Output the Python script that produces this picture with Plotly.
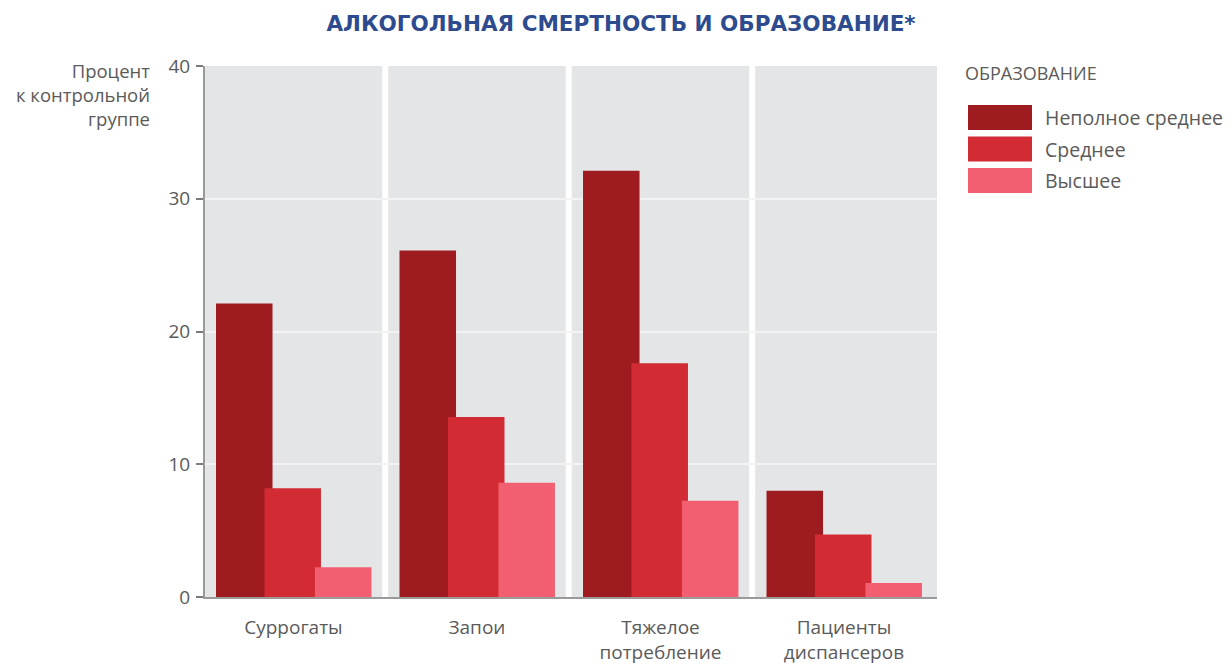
import plotly.graph_objects as go

categories = ["Суррогаты", "Запои", "Тяжелое<br>потребление", "Пациенты<br>диспансеров"]
series_names = ["Неполное среднее", "Среднее", "Высшее"]
incomplete_secondary = [22.1, 26.1, 32.1, 8.0]
secondary = [8.2, 13.55, 17.6, 4.7]
higher = [2.25, 8.6, 7.25, 1.05]
colors = ["#9e1c20", "#d22b33", "#f15f71"]
y_ticks = [0, 10, 20, 30, 40]

title_text = "АЛКОГОЛЬНАЯ СМЕРТНОСТЬ И ОБРАЗОВАНИЕ*"
y_title = "Процент<br>к контрольной<br>группе"
legend_title = "ОБРАЗОВАНИЕ"

FONT = "Open Sans"
TXT = "#5a5a5a"
OFF = 8                      # page body margin
W, H = 1232 - OFF, 664 - OFF
PL, PR, PT, PB = 205, 937, 66, 597   # plot area in screenshot pixels


def px(x):
    return (x - PL) / (PR - PL)


def py(y):
    return (PB - y) / (PB - PT)


fig = go.Figure()
offsets = [-0.422, -0.158, 0.117]
for name, vals, col, off in zip(series_names, [incomplete_secondary, secondary, higher], colors, offsets):
    fig.add_trace(go.Bar(
        x=list(range(len(categories))), y=vals, name=name,
        marker=dict(color=col, line=dict(width=0)),
        width=0.308, offset=off, showlegend=False,
    ))

shapes = []
for sep in [0.5, 1.5, 2.5]:
    shapes.append(dict(type="line", xref="x", yref="paper", x0=sep, x1=sep, y0=0, y1=1,
                       line=dict(color="white", width=6), layer="below"))

annotations = []
for i, (name, col) in enumerate(zip(series_names, colors)):
    top = 105 + i * 31.5
    shapes.append(dict(type="rect", xref="paper", yref="paper",
                       x0=px(968), x1=px(1032), y0=py(top + 25), y1=py(top),
                       fillcolor=col, line=dict(width=0)))
    annotations.append(dict(xref="paper", yref="paper", x=px(1043), y=py(top + 12.5),
                            text=name, showarrow=False, xanchor="left", yanchor="middle",
                            font=dict(family=FONT, size=19.5, color=TXT)))
annotations.append(dict(xref="paper", yref="paper", x=px(963), y=py(73),
                        text=legend_title, showarrow=False, xanchor="left", yanchor="middle",
                        font=dict(family=FONT, size=18, color=TXT)))
annotations.append(dict(xref="paper", yref="paper", x=px(152), y=py(56), yanchor="top",
                        text=y_title, showarrow=False, xanchor="right", align="right",
                        font=dict(family=FONT, size=18.5, color=TXT)))

fig.update_layout(
    width=W, height=H,
    margin=dict(l=PL - OFF, r=W - (PR - OFF), t=PT - OFF, b=H - (PB - OFF), autoexpand=False),
    paper_bgcolor="white", plot_bgcolor="#e4e5e7",
    barmode="overlay",
    title=dict(text="<b>" + title_text + "</b>", x=(621 - OFF) / W, xanchor="center",
               y=1 - (23 - OFF) / H, yanchor="middle",
               font=dict(family="DejaVu Sans", size=21.5, color="#2d4b8e")),
    shapes=shapes, annotations=annotations,
    xaxis=dict(tickmode="array", tickvals=list(range(len(categories))), ticktext=categories,
               range=[-0.482, 3.507], showgrid=False, zeroline=False, showline=True, linecolor="#9a9a9a",
               linewidth=2, ticks="", tickfont=dict(family=FONT, size=19, color=TXT),
               ticklabelstandoff=12, automargin=False),
    yaxis=dict(range=[0, 40], tickvals=y_ticks, showgrid=True, gridcolor="#f3f3f3", gridwidth=2,
               zeroline=False, showline=True, linecolor="#9a9a9a", linewidth=2, ticks="outside",
               ticklen=7, tickwidth=2, tickcolor="#7a7a7a", ticklabelstandoff=2, automargin=False,
               tickfont=dict(family=FONT, size=19, color=TXT)),
)
fig.write_html("out.html")
